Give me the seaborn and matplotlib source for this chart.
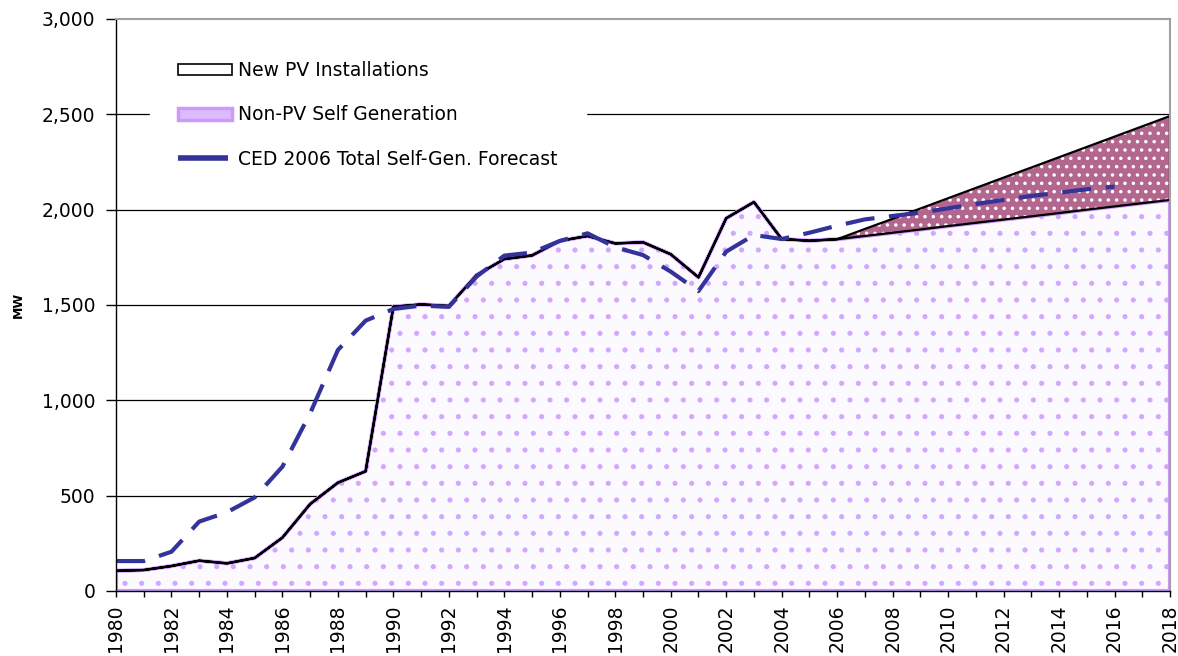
import numpy as np
import pandas as pd
import seaborn as sns
import matplotlib
matplotlib.use("Agg")
import matplotlib.pyplot as plt
from matplotlib.patches import Patch
from matplotlib.lines import Line2D

# ---------------- data ----------------
years = list(range(1980, 2019))
non_pv = [106, 110, 131, 159, 145, 173, 280, 456, 568, 628,
          1491, 1503, 1495, 1657, 1741, 1760, 1836, 1862, 1823, 1829,
          1766, 1645, 1955, 2040, 1846, 1837, 1845, 1862, 1879, 1896,
          1914, 1931, 1948, 1965, 1982, 2000, 2017, 2034, 2051]
new_pv = [0] * 27 + [37, 73, 110, 146, 183, 220, 256, 293, 329, 366, 403, 440]
forecast_years = list(range(1980, 2017))
forecast = [157, 157, 206, 364, 413, 491, 652, 932, 1264, 1418,
            1479, 1497, 1490, 1649, 1759, 1775, 1836, 1876, 1803, 1762,
            1675, 1573, 1780, 1867, 1846, 1879, 1916, 1949, 1967, 1984,
            2007, 2030, 2051, 2072, 2089, 2107, 2121]
y_ticks = [0, 500, 1000, 1500, 2000, 2500, 3000]
labels = ["New PV Installations", "Non-PV Self Generation",
          "CED 2006 Total Self-Gen. Forecast"]

sns.set_theme(style="white")
plt.rcParams['font.family'] = ['DejaVu Sans']
plt.rcParams['text.color'] = 'black'
plt.rcParams['hatch.linewidth'] = 1.3

lilac = "#cc99ff"
mauve = "#b3668e"
navy = "#333399"

df = pd.DataFrame({"year": years, "nonpv": non_pv, "pv": new_pv})
df["total"] = df["nonpv"] + df["pv"]
fdf = pd.DataFrame({"year": forecast_years, "forecast": forecast})

fig = plt.figure(figsize=(11.78, 6.56), dpi=100)
ax = fig.add_axes([0.09847, 0.09909, 0.89474, 0.87195])

# grid lines
for v in y_ticks[1:-1]:
    ax.axhline(v, color="black", lw=0.9, zorder=0)

# Non-PV area: white with lilac pattern, lilac edge
ax.fill_between(df["year"], 0, df["nonpv"], facecolor="#fdfaff",
                edgecolor="#d2a8ff", hatch=".", linewidth=0, zorder=1)
ax.fill_between(df["year"], 0, df["nonpv"], facecolor="none",
                edgecolor=lilac, linewidth=3.0, zorder=2)

# New PV area: mauve with white dots, black edge
ax.fill_between(df["year"], df["nonpv"], df["total"], facecolor=mauve,
                edgecolor="white", hatch="..", linewidth=0, zorder=3)
ax.fill_between(df["year"], df["nonpv"], df["total"], facecolor="none",
                edgecolor="black", linewidth=1.6, zorder=4)

# Forecast dashed line
sns.lineplot(data=fdf, x="year", y="forecast", ax=ax, color=navy,
             linewidth=3.0, zorder=5, legend=False)
ax.lines[-1].set_dashes((7, 3.5))

ax.set_xlim(1980, 2018)
ax.set_ylim(0, 3000)
ax.set_yticks(y_ticks)
ax.set_yticklabels([f"{v:,}" for v in y_ticks])
ax.set_xticks(years)
ax.set_xticklabels([str(y) if (y - 1980) % 2 == 0 else "" for y in years],
                   rotation=90)
ax.tick_params(axis="y", direction="out", length=7, width=1, pad=8,
               labelsize=13.5, colors="black", left=True)
ax.tick_params(axis="x", direction="out", length=4.5, width=1, pad=5,
               labelsize=13.5, colors="black", bottom=True)
ax.set_xlabel("")
ax.set_ylabel("MW", fontsize=9, fontweight="bold", labelpad=12, color="black")

for s in ["left", "bottom"]:
    ax.spines[s].set_color("black")
    ax.spines[s].set_linewidth(1.0)
for s in ["top", "right"]:
    ax.spines[s].set_color("#a0a0a0")
    ax.spines[s].set_linewidth(1.5)
for s in ax.spines.values():
    s.set_zorder(6)

handles = [
    Patch(facecolor="white", edgecolor="black", linewidth=1.2),
    Patch(facecolor="#dcbcff", edgecolor=lilac, linewidth=2.5),
    Line2D([], [], color=navy, linewidth=4, dashes=(9, 5)),
]
leg = ax.legend(handles, labels, loc="upper left",
                bbox_to_anchor=(0.0232, 0.992), fontsize=13.5,
                frameon=True, facecolor="white", edgecolor="white",
                framealpha=1, fancybox=False, borderpad=1.5,
                handlelength=2.9, handleheight=0.6, handletextpad=0.3,
                labelspacing=1.35)
for t in leg.get_texts():
    t.set_color("black")
leg.set_zorder(7)

fig.savefig("out.png", dpi=100)
